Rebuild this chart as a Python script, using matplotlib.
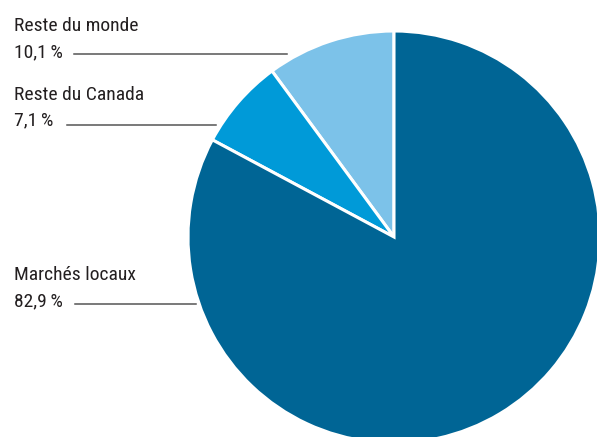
import matplotlib
matplotlib.use("Agg")
import matplotlib.pyplot as plt

# Share of sales by market
labels = ["Reste du monde", "Reste du Canada", "Marchés locaux"]
shares = [10.1, 7.1, 82.9]
colors = ["#7cc2e9", "#009ad8", "#006595"]

plt.rcParams["font.family"] = ["Roboto Condensed", "DejaVu Sans"]

W, H = 597, 437
fig = plt.figure(figsize=(W / 100, H / 100), dpi=100)
ax = fig.add_axes([0, 0, 1, 1])

cx, cy, r = 394, H - 237, 206
ax.pie(shares, colors=colors, startangle=90, counterclock=True,
       center=(cx, cy), radius=r, frame=True,
       wedgeprops=dict(edgecolor="white", linewidth=2.2))
ax.set_xlim(0, W)
ax.set_ylim(0, H)
ax.set_aspect("equal")
ax.axis("off")

# label block: (text x, name baseline, value baseline, line start, line end, line y)
label_pos = [
    (14, 31, 57, 74, 287, 54),
    (14, 100, 125, 67, 216, 125),
    (14, 280, 306, 75, 196, 304),
]
for name, val, (tx, y1, y2, lx0, lx1, ly) in zip(labels, shares, label_pos):
    ax.text(tx, H - y1, name, fontsize=14, color="#231f20", va="baseline")
    ax.text(tx, H - y2, f"{val:.1f}\u2009%".replace(".", ","), fontsize=14,
            color="#231f20", va="baseline")
    ax.plot([lx0, lx1], [H - ly, H - ly], color="#555555", lw=1.1)

fig.savefig("out.png", dpi=100)
